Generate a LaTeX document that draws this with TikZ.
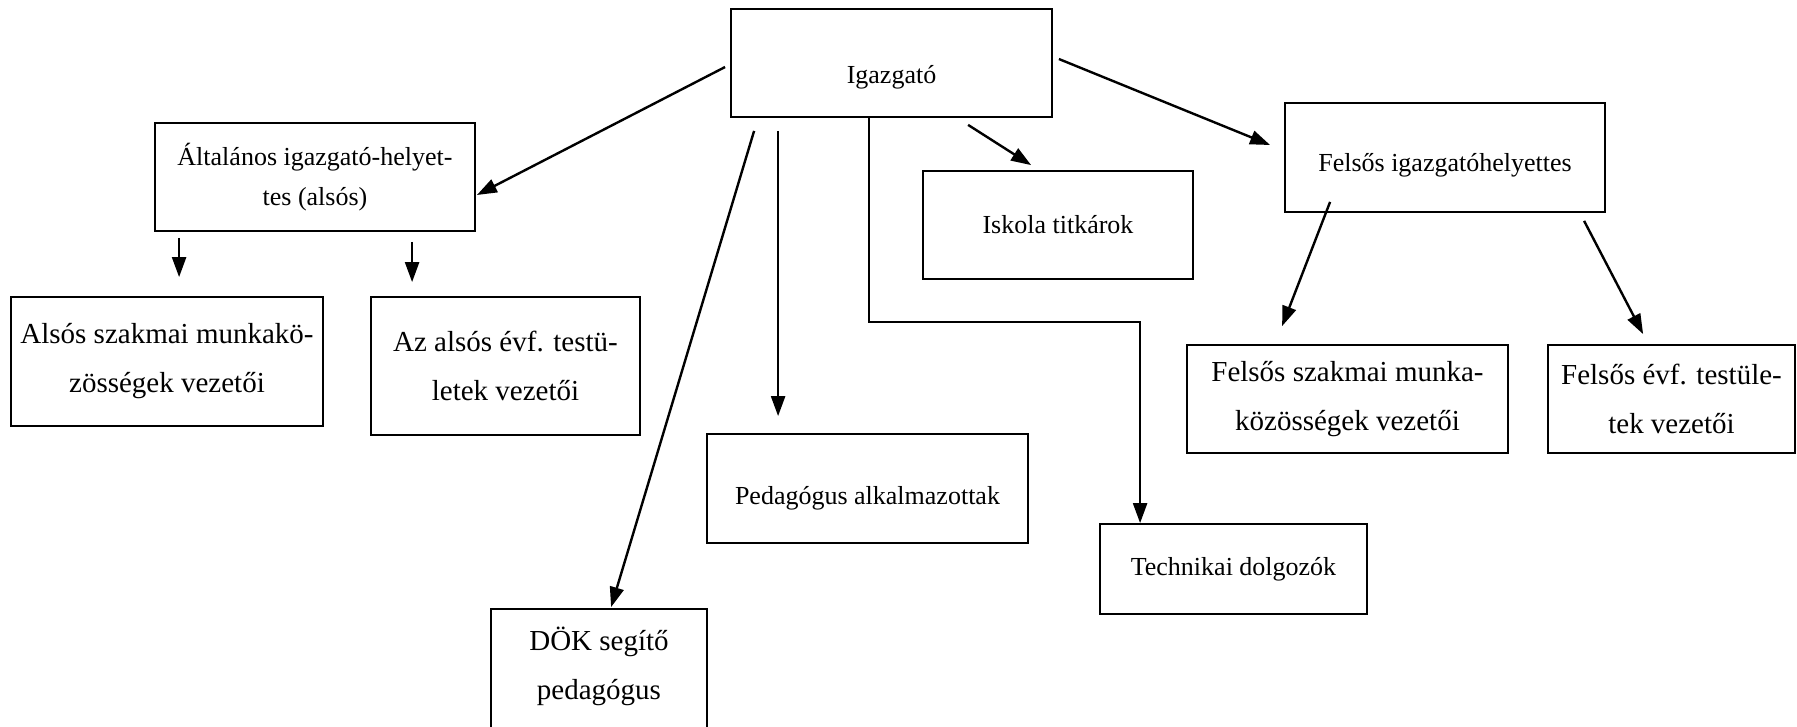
\documentclass[tikz,border=0pt]{standalone}
\usepackage{fontspec}
\setmainfont{Liberation Serif}
\usetikzlibrary{arrows.meta, positioning, calc}

\begin{document}
\begin{tikzpicture}[
    x=1pt, y=-1pt,
    box/.style={rectangle, draw=black, line width=1.8pt, align=center, inner sep=0pt, font=\fontsize{26}{40}\selectfont},
    bigbox/.style={box, font=\fontsize{29}{49}\selectfont},
    arrow/.style={-{Triangle[length=20pt, width=14pt]}, line width=2.4pt}
]
\useasboundingbox (0,0) rectangle (1797,726);

% Director
\node[box, minimum width=321pt, minimum height=108pt, text height=46pt] (igaz) at (891.5,63) {Igazgató};

% Lower school branch
\node[box, minimum width=320pt, minimum height=108pt] (alt) at (315,177) {Általános igazgató-helyet-\\tes (alsós)};
\node[bigbox, minimum width=312pt, minimum height=129pt] (alsosz) at (167,361.5) {Alsós szakmai munkakö-\\zösségek vezetői};
\node[bigbox, minimum width=269pt, minimum height=138pt] (alsoevf) at (505.5,366) {Az alsós évf. testü-\\letek vezetői};

% Staff
\node[bigbox, minimum width=216pt, minimum height=140pt, text depth=32pt] (dok) at (599,679) {DÖK segítő\\pedagógus};
\node[box, minimum width=321pt, minimum height=109pt, text height=38pt] (ped) at (867.5,488.5) {Pedagógus alkalmazottak};
\node[box, minimum width=270pt, minimum height=108pt] (isk) at (1058,225) {Iskola titkárok};
\node[box, minimum width=267pt, minimum height=90pt] (tech) at (1233.5,569) {Technikai dolgozók};

% Upper school branch
\node[box, minimum width=320pt, minimum height=109pt, text height=34pt] (felig) at (1445,157.5) {Felsős igazgatóhelyettes};
\node[bigbox, minimum width=321pt, minimum height=108pt] (felsz) at (1347.5,399) {Felsős szakmai munka-\\közösségek vezetői};
\node[bigbox, minimum width=247pt, minimum height=108pt] (felevf) at (1671.5,399) {Felsős évf. testüle-\\tek vezetői};

% Arrows
\draw[arrow] ($(igaz.west)+(-5,4)$) -- ($(alt.east)+(1,18)$);
\draw[arrow] ($(alt.south west)+(25,6)$) -- ($(alsosz.north west)+(169,-19)$);
\draw[arrow] ($(alt.south west)+(258,10)$) -- ($(alsoevf.north west)+(42,-14)$);
\draw[arrow] ($(igaz.south west)+(24,13)$) -- ($(dok.north west)+(121,-1)$);
\draw[arrow] ($(igaz.south west)+(48,13)$) -- ($(ped.north west)+(72,-17)$);
\draw[arrow] ($(igaz.south west)+(139,0)$) |- ($(tech.north west)+(41,-201)$) -- ($(tech.north west)+(41,0)$);
\draw[arrow] ($(igaz.south west)+(238,7)$) -- ($(isk.north west)+(109,-5)$);
\draw[arrow] ($(igaz.east)+(6,-4)$) -- ($(felig.west)+(-14,-12.5)$);
\draw[arrow] ($(felig.south west)+(46,-11)$) -- ($(felsz.north west)+(96,-18)$);
\draw[arrow] ($(felig.south west)+(300,8)$) -- ($(felevf.north west)+(96,-10)$);

\end{tikzpicture}
\end{document}
